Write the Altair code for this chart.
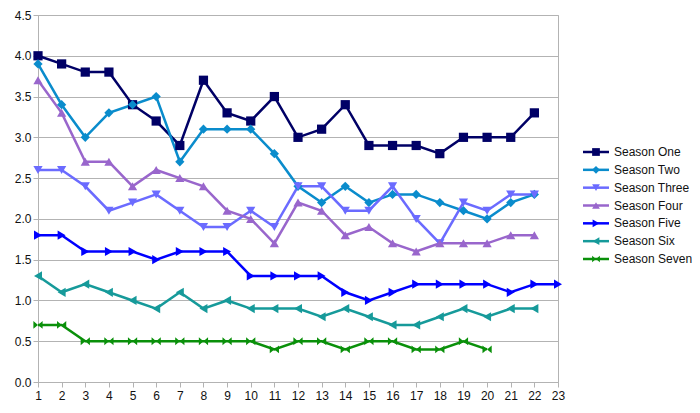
import altair as alt
import pandas as pd

episodes = list(range(1, 24))
series_names = ["Season One", "Season Two", "Season Three", "Season Four",
                "Season Five", "Season Six", "Season Seven"]

season_one = [4.0, 3.9, 3.8, 3.8, 3.4, 3.2, 2.9, 3.7, 3.3, 3.2, 3.5, 3.0, 3.1, 3.4,
              2.9, 2.9, 2.9, 2.8, 3.0, 3.0, 3.0, 3.3]
season_two = [3.9, 3.4, 3.0, 3.3, 3.4, 3.5, 2.7, 3.1, 3.1, 3.1, 2.8, 2.4, 2.2, 2.4,
              2.2, 2.3, 2.3, 2.2, 2.1, 2.0, 2.2, 2.3]
season_three = [2.6, 2.6, 2.4, 2.1, 2.2, 2.3, 2.1, 1.9, 1.9, 2.1, 1.9, 2.4, 2.4, 2.1,
                2.1, 2.4, 2.0, 1.7, 2.2, 2.1, 2.3, 2.3]
season_four = [3.7, 3.3, 2.7, 2.7, 2.4, 2.6, 2.5, 2.4, 2.1, 2.0, 1.7, 2.2, 2.1, 1.8,
               1.9, 1.7, 1.6, 1.7, 1.7, 1.7, 1.8, 1.8]
season_five = [1.8, 1.8, 1.6, 1.6, 1.6, 1.5, 1.6, 1.6, 1.6, 1.3, 1.3, 1.3, 1.3, 1.1,
               1.0, 1.1, 1.2, 1.2, 1.2, 1.2, 1.1, 1.2, 1.2]
season_six = [1.3, 1.1, 1.2, 1.1, 1.0, 0.9, 1.1, 0.9, 1.0, 0.9, 0.9, 0.9, 0.8, 0.9,
              0.8, 0.7, 0.7, 0.8, 0.9, 0.8, 0.9, 0.9]
season_seven = [0.7, 0.7, 0.5, 0.5, 0.5, 0.5, 0.5, 0.5, 0.5, 0.5, 0.4, 0.5, 0.5, 0.4,
                0.5, 0.5, 0.4, 0.4, 0.5, 0.4]

all_values = [season_one, season_two, season_three, season_four,
              season_five, season_six, season_seven]

colors = ["#000066", "#0a8ccc", "#6b6bff", "#9966cc", "#0000ff", "#169a9a", "#0a900a"]
bowtie = "M-1,-0.85L0,0L-1,0.85Z M1,-0.85L0,0L1,0.85Z M0,-0.9L0,0.9"
shapes = ["square", "diamond", "triangle-down", "triangle-up",
          "triangle-right", "triangle-left", bowtie]

y_ticks = [0, 0.5, 1.0, 1.5, 2.0, 2.5, 3.0, 3.5, 4.0, 4.5]

rows = []
for name, vals in zip(series_names, all_values):
    for i, v in enumerate(vals):
        rows.append({"series": name, "episode": episodes[i], "rating": v})
df = pd.DataFrame(rows)
leg = pd.DataFrame({"series": series_names})

color_scale = alt.Scale(domain=series_names, range=colors)
shape_scale = alt.Scale(domain=series_names, range=shapes)

x = alt.X("episode:Q", title=None,
          scale=alt.Scale(domain=[1, 23], nice=False, zero=False),
          axis=alt.Axis(values=episodes, grid=False, tickSize=5, labelPadding=3,
                        labelFlush=False))
y = alt.Y("rating:Q", title=None,
          scale=alt.Scale(domain=[0, 4.5], nice=False),
          axis=alt.Axis(values=y_ticks, format=".1f", tickSize=5, labelPadding=2))
color = alt.Color("series:N", scale=color_scale, legend=None)
shape = alt.Shape("series:N", scale=shape_scale, legend=None)

lines = alt.Chart(df).mark_line(strokeWidth=2.5).encode(x=x, y=y, color=color)
points = alt.Chart(df).mark_point(filled=True, opacity=1, size=85).encode(
    x=x, y=y, color=color, shape=shape)
main = alt.layer(lines, points)

ly = alt.Y("series:N", title=None,
           scale=alt.Scale(type="point", domain=series_names, range=[137, 244], padding=0),
           axis=None)
leg_rule = alt.Chart(leg).mark_rule(strokeWidth=2.5).encode(
    x=alt.value(545), x2=alt.value(571), y=ly, color=color)
leg_pts = alt.Chart(leg).mark_point(filled=True, opacity=1, size=60).encode(
    x=alt.value(558), y=ly, color=color, shape=shape)
leg_txt = alt.Chart(leg).mark_text(align="left", baseline="middle", fontSize=12,
                                   font="Liberation Sans", color="#111").encode(
    x=alt.value(576), y=ly, text="series:N")
legend = alt.layer(leg_rule, leg_pts, leg_txt)

chart = alt.layer(main, legend).resolve_scale(y="independent").properties(
    width=520, height=367,
    autosize=alt.AutoSizeParams(type="none"),
    padding={"left": 30, "top": 7, "right": 134, "bottom": 23},
).configure_view(stroke="#b3b3b3", strokeWidth=1).configure_axis(
    domainColor="#b3b3b3", tickColor="#b3b3b3", gridColor="#b3b3b3",
    labelFont="Liberation Sans", labelFontSize=12, labelColor="#111",
)

chart.save("out.html", embed_options={"renderer": "svg", "actions": False})
